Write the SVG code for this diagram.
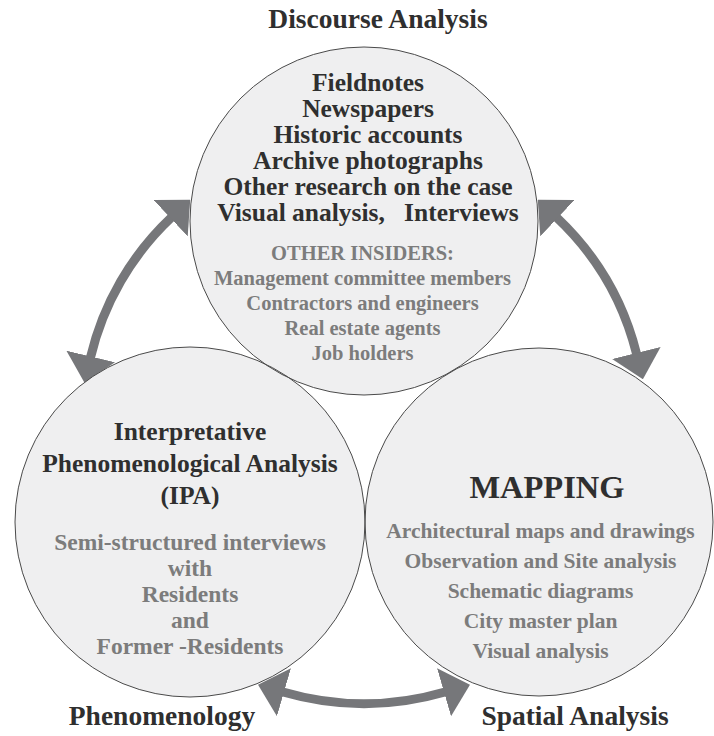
<svg xmlns="http://www.w3.org/2000/svg" width="714" height="736" viewBox="0 0 714 736">
  <style>
    .circ { fill: #efeff0; stroke: none; }
    .ring { fill: none; stroke: #4a4a4a; stroke-width: 1; }
    .arrow { fill: none; stroke: #76777a; stroke-width: 9; stroke-linecap: butt; marker-start: url(#head); marker-end: url(#head); }
    text { font-family: "Liberation Serif", "Times New Roman", serif; font-weight: bold; text-anchor: middle; }
    .dark { fill: #2f2f2f; }
    .gray { fill: #7c7c7c; }
    .lbl { font-size: 27.5px; fill: #2f2f2f; }
  </style>
  <defs>
    <marker id="head" markerUnits="userSpaceOnUse" viewBox="0 0 27 50" markerWidth="27" markerHeight="50" refX="1" refY="25" orient="auto-start-reverse">
      <path d="M0,0 L27,25 L0,50 Z" fill="#76777a"/>
    </marker>
  </defs>
  <rect width="714" height="736" fill="#ffffff"/>

  <g id="connectors">
    <path class="arrow" d="M90.5,357.4 A281,281 0 0 1 171.3,217.5"/>
    <path class="arrow" d="M556.7,217.5 A281,281 0 0 1 636.6,354"/>
    <path class="arrow" d="M283,692 A290,290 0 0 0 445,692"/>
  </g>

  <g id="node-discourse">
    <circle class="circ" cx="364" cy="221" r="174"/>
    <text class="lbl" x="378" y="28">Discourse Analysis</text>
    <g class="dark" font-size="25.5">
      <text x="368" y="91">Fieldnotes</text>
      <text x="368" y="117">Newspapers</text>
      <text x="368" y="143">Historic accounts</text>
      <text x="368" y="169">Archive photographs</text>
      <text x="368" y="195">Other research on the case</text>
      <text x="368" y="221" style="white-space:pre">Visual analysis,   Interviews</text>
    </g>
    <g class="gray" font-size="20.5">
      <text x="362.5" y="260">OTHER INSIDERS:</text>
      <text x="362.5" y="285">Management committee members</text>
      <text x="362.5" y="310">Contractors and engineers</text>
      <text x="362.5" y="335">Real estate agents</text>
      <text x="362.5" y="360">Job holders</text>
    </g>
  </g>

  <g id="node-ipa">
    <circle class="circ" cx="190" cy="522" r="175"/>
    <text class="lbl" x="162" y="725">Phenomenology</text>
    <g class="dark" font-size="25.5">
      <text x="190" y="440">Interpretative</text>
      <text x="190" y="472">Phenomenological Analysis</text>
      <text x="190" y="504">(IPA)</text>
    </g>
    <g class="gray" font-size="23.5">
      <text x="190" y="550">Semi-structured interviews</text>
      <text x="190" y="576">with</text>
      <text x="190" y="602">Residents</text>
      <text x="190" y="628">and</text>
      <text x="190" y="654">Former -Residents</text>
    </g>
  </g>

  <g id="node-mapping">
    <circle class="circ" cx="539" cy="522" r="174"/>
    <text class="lbl" x="575" y="725">Spatial Analysis</text>
    <text class="dark" x="547" y="498" font-size="32.5">MAPPING</text>
    <g class="gray" font-size="21.5">
      <text x="540.5" y="538">Architectural maps and drawings</text>
      <text x="540.5" y="568">Observation and Site analysis</text>
      <text x="540.5" y="598">Schematic diagrams</text>
      <text x="540.5" y="628">City master plan</text>
      <text x="540.5" y="658">Visual analysis</text>
    </g>
  </g>

  <g id="outlines">
    <circle class="ring" cx="364" cy="221" r="174"/>
    <circle class="ring" cx="190" cy="522" r="175"/>
    <circle class="ring" cx="539" cy="522" r="174"/>
  </g>
</svg>
